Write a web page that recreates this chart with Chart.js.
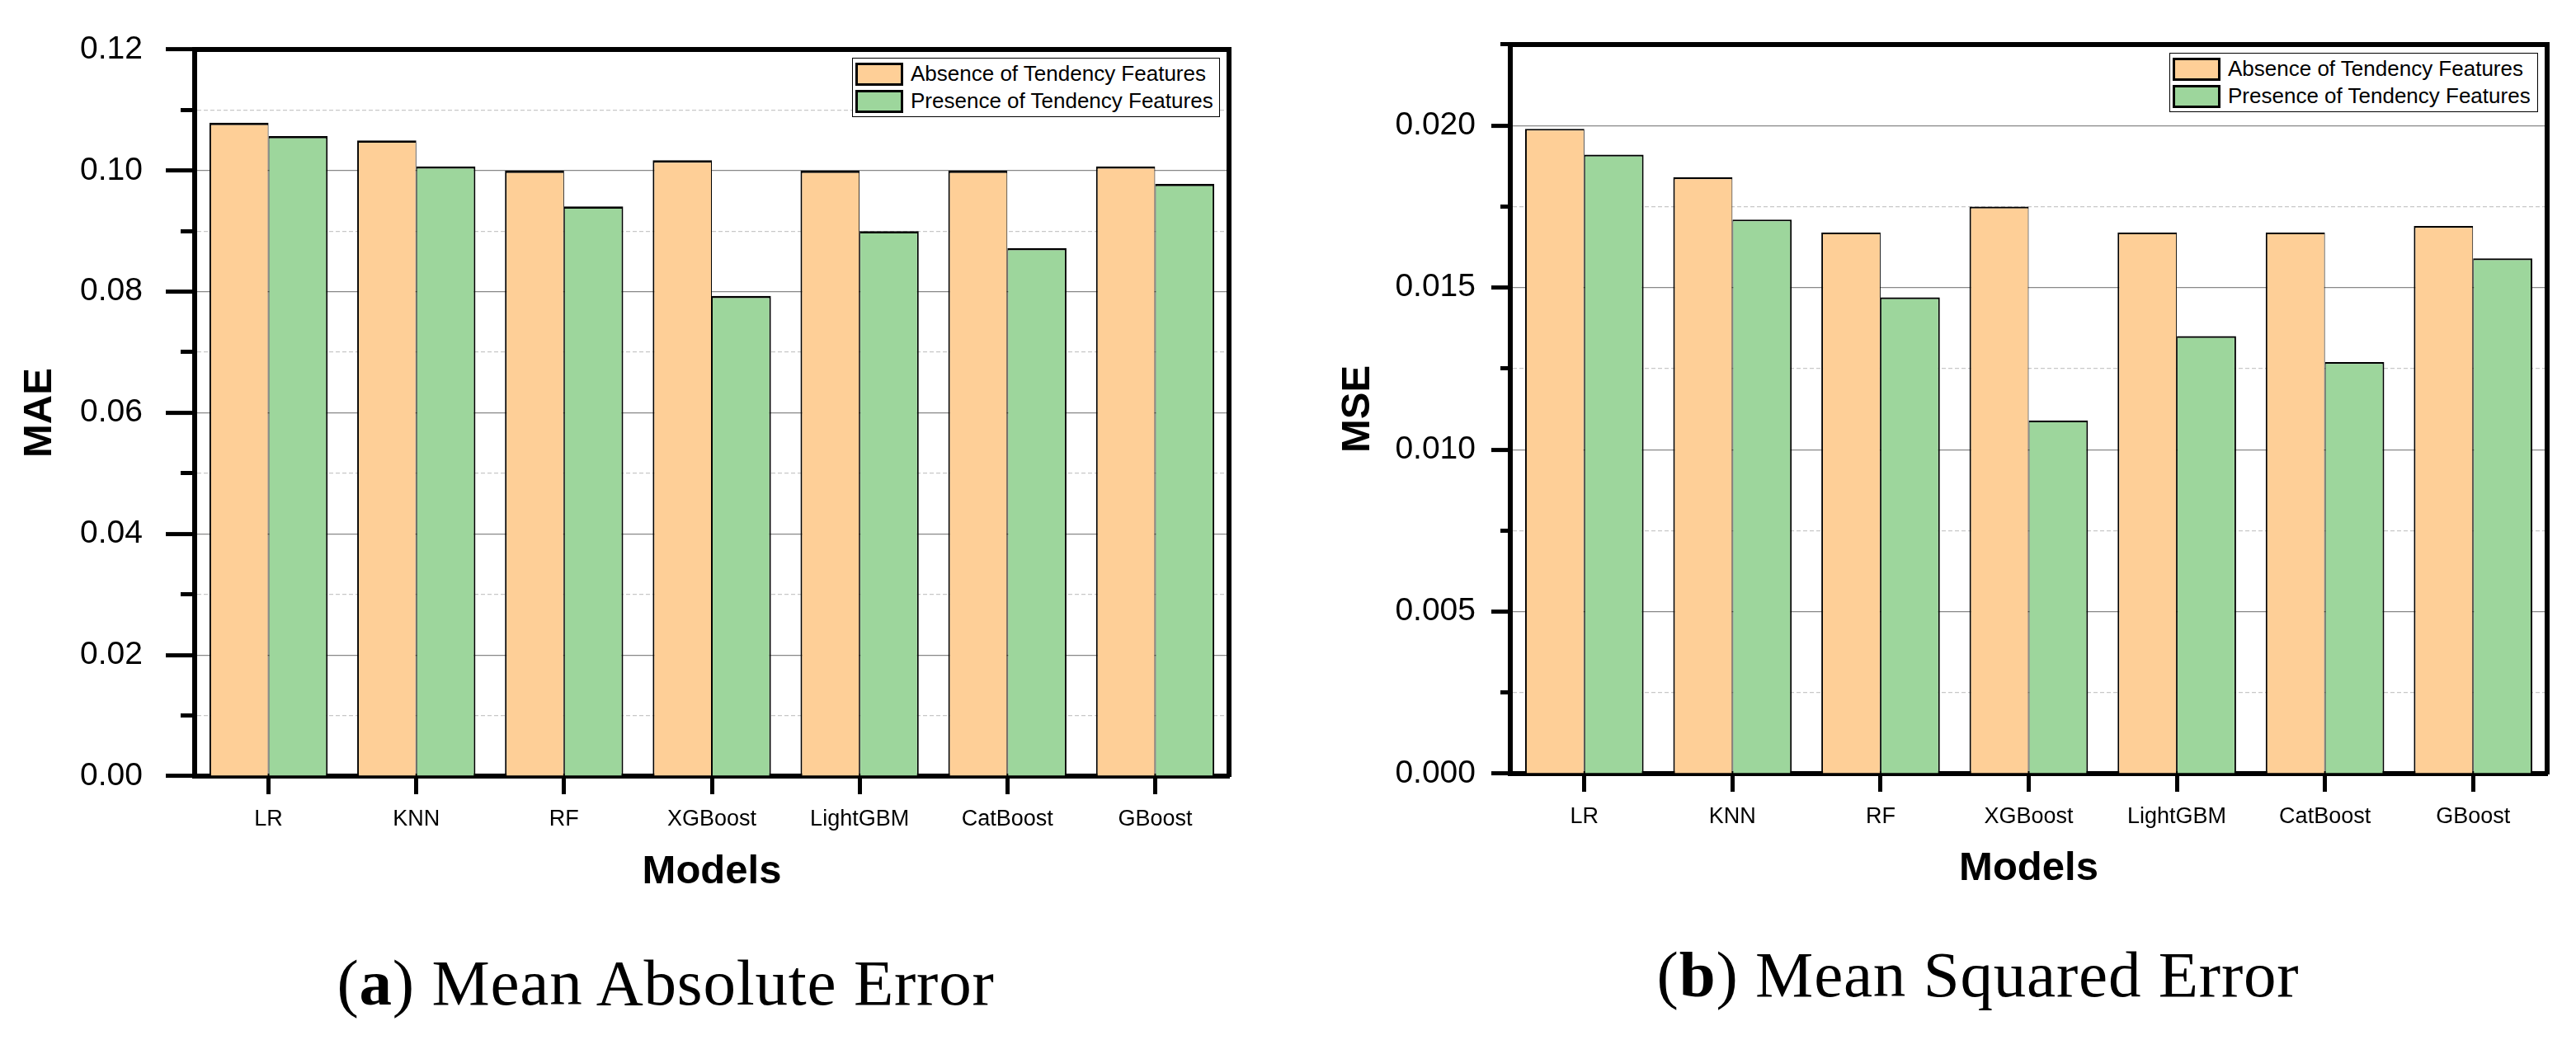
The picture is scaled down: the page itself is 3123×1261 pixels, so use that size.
<!DOCTYPE html>
<html>
<head>
<meta charset="utf-8">
<title>MAE / MSE with and without tendency features</title>
<script src="https://cdn.jsdelivr.net/npm/chart.js@4.4.1/dist/chart.umd.min.js"></script>
<style>
  html, body { margin: 0; padding: 0; background: #fff; }
  body { position: relative; width: 3123px; height: 1261px; overflow: hidden; font-family: 'Liberation Sans', Arial, sans-serif; }
  canvas { position: absolute; top: 0; }
  .legend { position: absolute; box-sizing: border-box; border: 1.5px solid #000; background: #fff; padding: 2px 3px; }
  .legend .row { display: flex; align-items: center; height: 33px; font-size: 26px; white-space: nowrap; color: #000; }
  .legend .sw { box-sizing: border-box; width: 58px; height: 28px; border: 3px solid #000; margin-right: 9px; }
  .caption { position: absolute; width: 1200px; text-align: center; white-space: nowrap;
             font-family: 'Liberation Serif', 'DejaVu Serif', serif; font-size: 79px; letter-spacing: 0.8px; line-height: 1; color: #000; }
</style>
</head>
<body>
<canvas id="mae" width="1561" height="1120" style="left:0;width:1561px;height:1120px"></canvas>
<canvas id="mse" width="1562" height="1120" style="left:1561px;width:1562px;height:1120px"></canvas>
<div class="caption" style="left:207px;top:1152px">(<b>a</b>) Mean Absolute Error</div>
<div class="caption" style="left:1798px;top:1142px">(<b>b</b>) Mean Squared Error</div>
<script>
// values
const MODELS = ['LR', 'KNN', 'RF', 'XGBoost', 'LightGBM', 'CatBoost', 'GBoost'];
const SERIES = ['Absence of Tendency Features', 'Presence of Tendency Features'];

const MAE_ABSENT  = [0.1079, 0.1050, 0.1000, 0.1017, 0.1000, 0.1000, 0.1007];
const MAE_PRESENT = [0.1057, 0.1007, 0.0941, 0.0793, 0.0900, 0.0872, 0.0978];
const MSE_ABSENT  = [0.0199, 0.0184, 0.0167, 0.0175, 0.0167, 0.0167, 0.0169];
const MSE_PRESENT = [0.0191, 0.0171, 0.0147, 0.0109, 0.0135, 0.0127, 0.0159];

const MAE_TICK_LABELS = ['0.00', '0.02', '0.04', '0.06', '0.08', '0.10', '0.12'];
const MSE_TICK_LABELS = ['0.000', '0.005', '0.010', '0.015', '0.020'];

const ORANGE = '#FECF97';
const GREEN = '#9DD69C';
const SANS = "'Liberation Sans', Arial, sans-serif";

// major ticks carry a label, minor ticks sit between them
const isMajor = c => c.index % 2 === 0;

function makePanel(p) {
  // outer sides 2px, the shared middle edge ~2px in total
  const bar = (label, data, color, first) => ({
    label, data,
    backgroundColor: color,
    borderColor: '#000',
    borderWidth: { top: p.barTop, left: first ? 2 : 1, right: first ? 1 : 2, bottom: 0 },
    borderSkipped: 'bottom'
  });

  const chart = new Chart(document.getElementById(p.id), {
    type: 'bar',
    data: {
      labels: MODELS,
      datasets: [bar(SERIES[0], p.absent, ORANGE, true), bar(SERIES[1], p.present, GREEN, false)]
    },
    options: {
      responsive: false,
      animation: false,
      layout: { padding: { top: p.top, right: p.right, bottom: p.bottom, left: 0 } },
      datasets: { bar: { categoryPercentage: 0.8, barPercentage: 1 } },
      plugins: { legend: { display: false }, tooltip: { enabled: false } },
      scales: {
        x: {
          grid: { offset: false, drawOnChartArea: false, tickLength: 22, tickWidth: 5, tickColor: '#000' },
          border: { color: '#000', width: 6 },
          ticks: { color: '#000', font: { family: SANS, size: 27 }, padding: 14, maxRotation: 0, autoSkip: false },
          title: { display: true, text: 'Models', color: '#000', padding: { top: 0, bottom: 0 },
                   font: { family: SANS, size: 49, weight: 'bold' } },
          afterFit: s => { s.height = p.xAxisH; s.paddingLeft = 0; s.paddingRight = 0; }
        },
        y: {
          min: 0, max: p.max,
          ticks: {
            stepSize: p.step, color: '#000', font: { family: SANS, size: 39 }, padding: p.labelPad,
            callback: (v, i) => i % 2 === 0 ? p.tickLabels[i / 2] : ''
          },
          grid: {
            color: c => isMajor(c) ? '#888888' : '#c8c8c8',
            lineWidth: 1.2,
            tickLength: p.tickLen,
            tickWidth: 5,
            tickColor: '#000',
            tickBorderDash: c => isMajor(c) ? [] : [0, p.tickLen - p.minorLen, p.minorLen, 0]
          },
          border: { color: '#000', width: 6, dash: c => (c.type === 'tick' && !isMajor(c)) ? [5, 3] : [] },
          title: { display: true, text: p.yTitle, color: '#000', padding: { top: p.titlePad, bottom: 0 },
                   font: { family: SANS, size: 49, weight: 'bold' } },
          afterFit: s => { s.width = p.yAxisW; s.paddingTop = 0; s.paddingBottom = 0; }
        },
        xTop: {
          type: 'linear', position: 'top', min: 0, max: 1,
          grid: { drawOnChartArea: false, drawTicks: false },
          ticks: { display: false },
          border: { color: '#000', width: 6 },
          afterFit: s => { s.height = 0; s.paddingLeft = 0; s.paddingRight = 0; }
        },
        yRight: {
          type: 'linear', position: 'right', min: 0, max: 1,
          grid: { drawOnChartArea: false, drawTicks: false },
          ticks: { display: false },
          border: { color: '#000', width: 6 },
          afterFit: s => { s.width = 0; s.paddingTop = 0; s.paddingBottom = 0; }
        }
      }
    }
  });

  // legend box inside the top-right corner of the plot
  const area = chart.chartArea;
  const lg = document.createElement('div');
  lg.className = 'legend';
  lg.style.width = p.legendW + 'px';
  lg.style.left = (p.offsetX + area.right - 11 - p.legendW) + 'px';
  lg.style.top = (area.top + 10) + 'px';
  chart.data.datasets.forEach(ds => {
    const row = document.createElement('div');
    row.className = 'row';
    const sw = document.createElement('div');
    sw.className = 'sw';
    sw.style.background = ds.backgroundColor;
    const txt = document.createElement('span');
    txt.textContent = ds.label;
    row.appendChild(sw);
    row.appendChild(txt);
    lg.appendChild(row);
  });
  document.body.appendChild(lg);
  return chart;
}

makePanel({
  id: 'mae', offsetX: 0,
  absent: MAE_ABSENT, present: MAE_PRESENT, tickLabels: MAE_TICK_LABELS,
  yTitle: 'MAE', max: 0.12, step: 0.01,
  top: 60, right: 71, bottom: 33, xAxisH: 146, yAxisW: 236,
  tickLen: 35, minorLen: 17, labelPad: 28, titlePad: 19, legendW: 446, barTop: 2.8
});

makePanel({
  id: 'mse', offsetX: 1561,
  absent: MSE_ABSENT, present: MSE_PRESENT, tickLabels: MSE_TICK_LABELS,
  yTitle: 'MSE', max: 0.0225, step: 0.0025,
  top: 54, right: 35, bottom: 37, xAxisH: 145, yAxisW: 270,
  tickLen: 23, minorLen: 12, labelPad: 19, titlePad: 56, legendW: 447, barTop: 2.2
});
</script>
</body>
</html>
